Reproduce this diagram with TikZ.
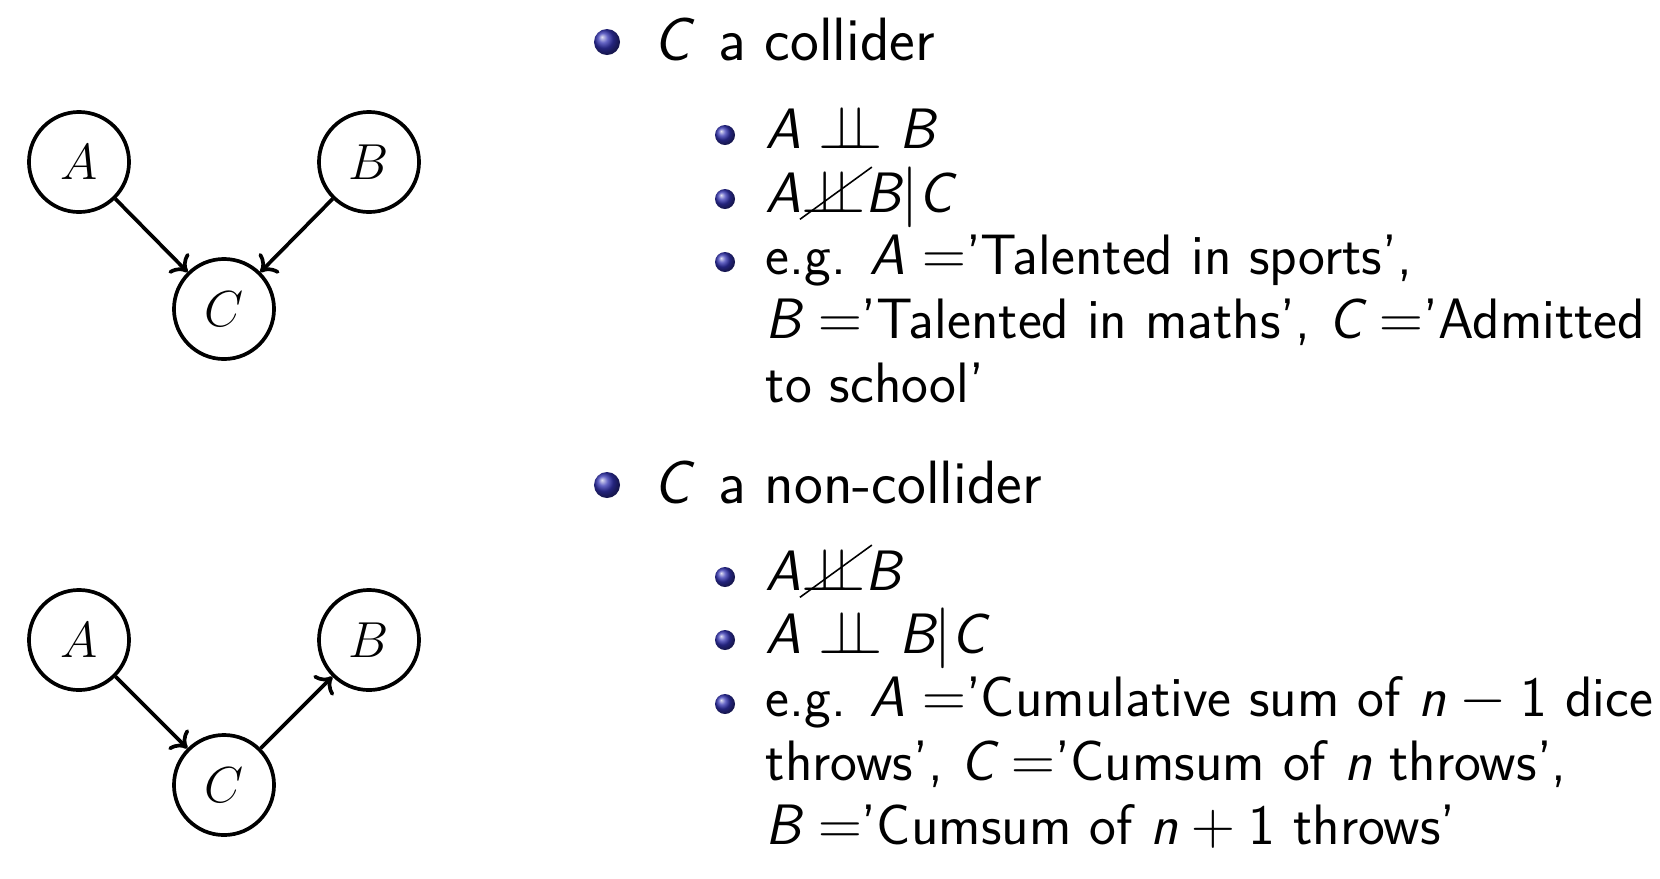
\documentclass[tikz,border=0pt]{standalone}
\usepackage{amsmath,amssymb}
\usepackage{tikz}
\usetikzlibrary{arrows.meta,positioning}
\definecolor{beamerBlue}{rgb}{0.2,0.2,0.7}
\newcommand{\sv}[1]{\mbox{\sffamily\itshape #1}}
\newcommand{\sn}[1]{\mbox{\sffamily #1}}
\newcommand{\indep}{\mathrel{\perp\!\!\!\perp}}
\newcommand{\nindep}{\mathord{\perp\!\!\!\perp}\llap{\raisebox{-0.14em}{\rotatebox{36}{\rule{1.56em}{0.45pt}}}\kern-0.12em}}

\begin{document}
\begin{tikzpicture}[x=0.01cm,y=-0.01cm,
    var/.style={circle,draw,line width=1.05pt,minimum size=1cm,inner sep=0pt,font=\fontsize{13.5}{15}\selectfont},
    edge/.style={-{To[length=1.4mm,width=2.8mm]},line width=1.05pt},
    mainball/.style={circle,shading=ball,ball color=beamerBlue,minimum size=0.26cm,inner sep=0pt},
    subball/.style={circle,shading=ball,ball color=beamerBlue,minimum size=0.2cm,inner sep=0pt},
    head/.style={anchor=base west,inner sep=0pt,font=\sffamily\fontsize{17.4}{20}\selectfont},
    txt/.style={anchor=base west,align=left,inner sep=0pt,font=\sffamily\fontsize{16.2}{18.07}\selectfont}]
        \useasboundingbox (0,0) rectangle (1660,878);
        % Collider graph
        \node[var] (a1) at (79,162) {$A$};
        \node[var] (b1) at (369,162) {$B$};
        \node[var] (c1) at (224,309) {$C$};
        \draw[edge] (a1) -- (c1);
        \draw[edge] (b1) -- (c1);
        % Non-collider graph
        \node[var] (a2) at (79,640) {$A$};
        \node[var] (b2) at (369,640) {$B$};
        \node[var] (c2) at (224,785) {$C$};
        \draw[edge] (a2) -- (c2);
        \draw[edge] (c2) -- (b2);
        % Collider items (multi-line texts sit on their last baseline)
        \node[mainball] (m1) at (607,42) {};
        \node[head] (t1) at (653,60) {\sv{C}\hspace{0.45em}a collider};
        \node[subball] (p11) at (725,135) {};
        \node[txt] (s11) at (765,148) {$\sv{A} \indep \sv{B}$};
        \node[subball] (p12) at (725,199) {};
        \node[txt] (s12) at (765,212) {$\sv{A}\nindep\sv{B}|\sv{C}$};
        \node[subball] (p13) at (725,262) {};
        \node[txt] (s13) at (765,402) {e.g. $\sv{A}=$'Talented in sports',\\
          $\sv{B}=$'Talented in maths', $\sv{C}=$'Admitted\\
          to school'};
        % Non-collider items
        \node[mainball] (m2) at (607,485) {};
        \node[head] (t2) at (653,503) {\sv{C}\hspace{0.45em}a non-collider};
        \node[subball] (p21) at (725,577) {};
        \node[txt] (s21) at (765,590) {$\sv{A}\nindep\sv{B}$};
        \node[subball] (p22) at (725,640) {};
        \node[txt] (s22) at (765,653) {$\sv{A} \indep \sv{B}|\sv{C}$};
        \node[subball] (p23) at (725,704) {};
        \node[txt] (s23) at (765,844) {e.g. $\sv{A}=$'Cumulative sum of $\sv{n}-\sn{1}$ dice\\
          throws', $\sv{C}=$'Cumsum of \sv{n} throws',\\
          $\sv{B}=$'Cumsum of $\sv{n}+\sn{1}$ throws'};
\end{tikzpicture}
\end{document}
